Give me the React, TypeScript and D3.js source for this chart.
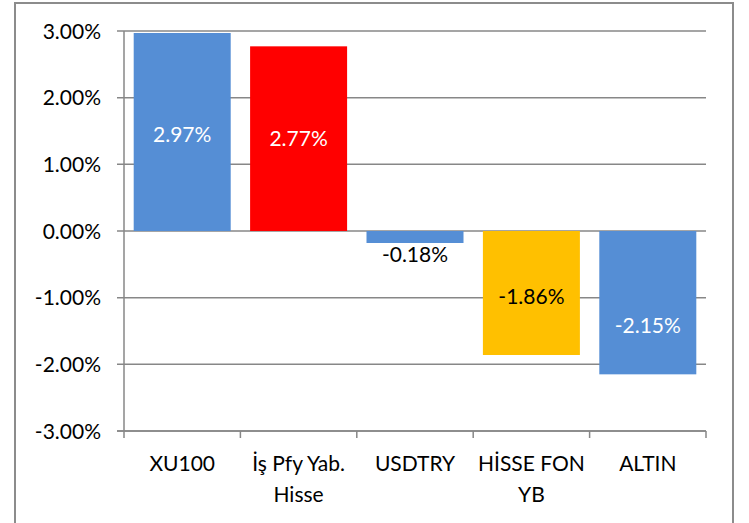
import React from "react";
import * as d3 from "d3";

const categories: string[][] = [
  ["XU100"],
  ["İş Pfy Yab.", "Hisse"],
  ["USDTRY"],
  ["HİSSE FON", "YB"],
  ["ALTIN"],
];
const values: number[] = [0.0297, 0.0277, -0.0018, -0.0186, -0.0215];
const barColors: string[] = ["#558ED5", "#FF0000", "#558ED5", "#FFC000", "#558ED5"];
const labelColors: string[] = ["#FFFFFF", "#FFFFFF", "#000000", "#000000", "#FFFFFF"];
const yTicks: number[] = [0.03, 0.02, 0.01, 0, -0.01, -0.02, -0.03];

// layout-only nudges (pixels) for data labels as placed in the original
const labelNudge: number[] = [2, 0, 0, 3, 23];

const W = 749;
const H = 523;
const FONT = "Lato, 'Open Sans', sans-serif";
const GRID = "#878787";

const pct = (v: number) => (v * 100).toFixed(2) + "%";

export default function App() {
  const left = 124;
  const right = 706;
  const top = 31;
  const bottom = 431;

  const y = d3.scaleLinear().domain([-0.03, 0.03]).range([bottom, top]);
  const idx = categories.map((_, i) => String(i));
  const x = d3
    .scaleBand<string>()
    .domain(idx)
    .range([left, right])
    .paddingInner(1 / 6)
    .paddingOuter(1 / 12);
  const step = x.step();

  return (
    <svg
      width={W}
      height={H}
      style={{ position: "absolute", left: 0, top: 0, background: "#fff" }}
      fontFamily={FONT}
    >
      <rect x={0} y={0} width={W} height={H} fill="#fff" />
      {/* chart border */}
      <rect x={15} y={3} width={718} height={H + 20} fill="none" stroke="#8c8c8c" strokeWidth={2} />

      {/* gridlines + y ticks */}
      {yTicks.map((t) => (
        <g key={t}>
          <line x1={left - 7} x2={right} y1={y(t)} y2={y(t)} stroke={GRID} strokeWidth={1.5} />
          <text x={101} y={y(t)} dy="0.36em" textAnchor="end" fontSize={21} fill="#000">
            {pct(t)}
          </text>
        </g>
      ))}

      {/* bars */}
      {values.map((v, i) => {
        const y0 = y(Math.max(0, v));
        const y1 = y(Math.min(0, v));
        return (
          <rect
            key={i}
            x={x(String(i))}
            y={y0}
            width={x.bandwidth()}
            height={y1 - y0}
            fill={barColors[i]}
          />
        );
      })}

      {/* axes */}
      <line x1={left} x2={left} y1={top} y2={bottom} stroke={GRID} strokeWidth={1.5} />
      <line x1={left - 7} x2={right} y1={bottom} y2={bottom} stroke={GRID} strokeWidth={1.5} />
      {d3.range(categories.length + 1).map((k) => {
        const xx = left + k * step;
        return (
          <line key={k} x1={xx} x2={xx} y1={bottom} y2={bottom + 7} stroke={GRID} strokeWidth={1.5} />
        );
      })}

      {/* data labels */}
      {values.map((v, i) => {
        const cx = (x(String(i)) as number) + x.bandwidth() / 2;
        const barPx = Math.abs(y(v) - y(0));
        let cy: number;
        if (barPx < 30) {
          cy = y(v) + (v < 0 ? 11 : -11);
        } else {
          cy = (y(v) + y(0)) / 2 + labelNudge[i];
        }
        return (
          <text
            key={i}
            x={cx}
            y={cy}
            dy="0.36em"
            textAnchor="middle"
            fontSize={21}
            fill={labelColors[i]}
          >
            {pct(v)}
          </text>
        );
      })}

      {/* category labels */}
      {categories.map((lines, i) => {
        const cx = (x(String(i)) as number) + x.bandwidth() / 2;
        return (
          <text key={i} textAnchor="middle" fontSize={21} fill="#000">
            {lines.map((ln, j) => (
              <tspan key={j} x={cx} y={471 + j * 31}>
                {ln}
              </tspan>
            ))}
          </text>
        );
      })}
    </svg>
  );
}
